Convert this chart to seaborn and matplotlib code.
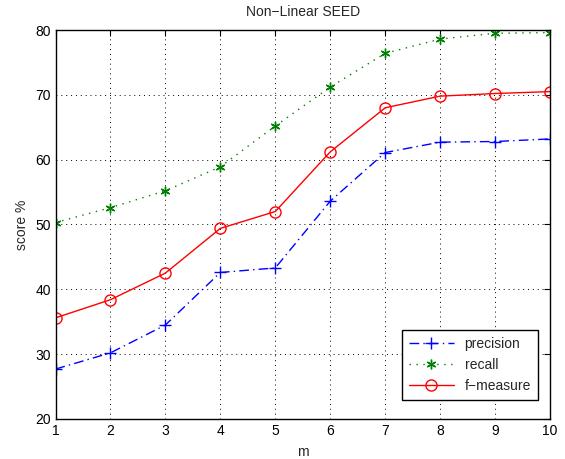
import matplotlib
matplotlib.use("Agg")
import matplotlib.pyplot as plt
import seaborn as sns
import pandas as pd

m = [1, 2, 3, 4, 5, 6, 7, 8, 9, 10]
precision = [27.7, 30.2, 34.5, 42.6, 43.3, 53.6, 61.1, 62.7, 62.8, 63.2]
recall = [50.3, 52.6, 55.2, 58.9, 65.2, 71.2, 76.4, 78.6, 79.5, 79.6]
f_measure = [35.6, 38.4, 42.5, 49.4, 52.0, 61.2, 68.0, 69.8, 70.2, 70.5]
series_names = ["precision", "recall", "f\u2212measure"]
yticks = [20, 30, 40, 50, 60, 70, 80]

sns.set_style("white")
plt.rcParams['font.family'] = ['Liberation Sans', 'DejaVu Sans']

fig = plt.figure(figsize=(5.65, 4.59), dpi=100)
ax = fig.add_axes([55.5/565, 40/459, (550-55.5)/565, (419-30)/459])

df = pd.DataFrame({"m": m, "precision": precision, "recall": recall, "f": f_measure})

sns.lineplot(data=df, x="m", y="precision", ax=ax, color="blue", linestyle=(0, (7, 3, 1, 3)),
             marker="+", markersize=9, markeredgewidth=1.0, markeredgecolor="blue",
             linewidth=1.0, label=series_names[0])
sns.lineplot(data=df, x="m", y="recall", ax=ax, color="green", linestyle=(0, (1, 4)),
             marker=(6, 2, 0), markersize=7, markeredgewidth=1.0, markeredgecolor="green",
             linewidth=1.0, label=series_names[1])
sns.lineplot(data=df, x="m", y="f", ax=ax, color="red", linestyle="-",
             marker="o", markersize=8, markerfacecolor="none", markeredgecolor="red",
             markeredgewidth=1.0, linewidth=1.0, label=series_names[2])

ax.set_xlim(1, 10)
ax.set_ylim(20, 80)
ax.set_xticks(m)
ax.set_yticks(yticks)
ax.tick_params(direction="in", top=True, right=True, length=4, labelsize=10, colors="black")
ax.grid(True, color="black", linestyle=(0, (1, 4)), linewidth=0.7)
for s in ax.spines.values():
    s.set_color("black")
    s.set_linewidth(1.0)
    s.set_visible(True)

ax.set_title("Non\u2212Linear SEED", fontsize=10, pad=10)
ax.set_xlabel("m", fontsize=10, labelpad=5)
ax.set_ylabel("score %", fontsize=10, labelpad=4)

leg = ax.legend(loc="lower right", bbox_to_anchor=(0.9757, 0.049), borderaxespad=0,
                fontsize=10, frameon=True,
                fancybox=False, edgecolor="black", framealpha=1, handlelength=3.2,
                borderpad=0.5, labelspacing=0.5)
leg.get_frame().set_linewidth(1.0)

fig.savefig("out.png", dpi=100)
